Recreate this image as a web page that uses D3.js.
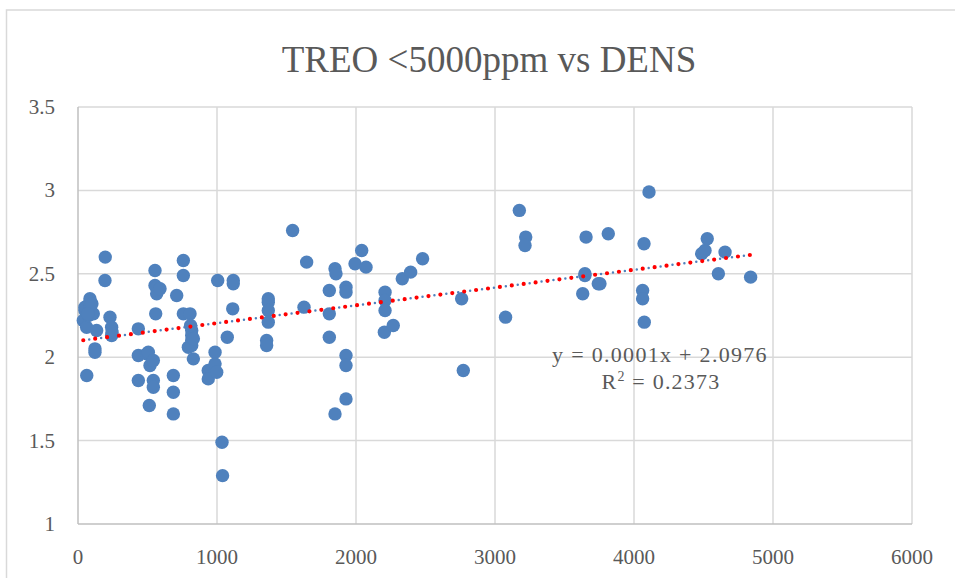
<!DOCTYPE html>
<html>
<head>
<meta charset="utf-8">
<script src="https://cdn.jsdelivr.net/npm/d3@7"></script>
<style>
  body { margin: 0; background: #fff; }
  svg text { font-family: "Liberation Serif", "DejaVu Serif", serif; fill: #595959; }
</style>
</head>
<body>
<div id="chart"></div>
<script>
// TREO (ppm) values
const treo = [
  38, 50, 50, 62, 63, 75, 86, 86, 90, 110, 122, 122, 134, 100, 70,
  194, 196, 230, 242, 242, 245,
  434, 434, 434, 494, 506, 513, 518, 542, 542, 542, 554, 554, 566, 566, 559, 590,
  686, 686, 686, 710, 758, 758, 758, 806, 794, 818, 818, 818, 818, 830, 830, 810,
  937, 937, 986, 986, 998, 1005, 1036, 1040, 1074, 1113, 1117, 1117,
  1357, 1357, 1369, 1369, 1369, 1369, 1544, 1626, 1645,
  1808, 1808, 1808, 1849, 1856, 1849, 1928, 1928, 1928, 1928, 1928, 1993, 2041, 2072,
  2209, 2209, 2209, 2204, 2268, 2333, 2393, 2479,
  2760, 2772, 3076, 3175, 3221, 3216,
  3631, 3647, 3647, 3655, 3743, 3755, 3815,
  4062, 4062, 4072, 4074, 4108,
  4487, 4511, 4527, 4607, 4655, 4839
];
// DENS values, same order
const dens = [
  2.22, 2.28, 2.30, 2.18, 1.89, 2.25, 2.35, 2.33, 2.30, 2.26, 2.05, 2.03, 2.16, 2.32, 2.26,
  2.46, 2.60, 2.24, 2.18, 2.13, 2.15,
  2.17, 2.01, 1.86, 2.02, 2.03, 1.71, 1.95, 1.98, 1.86, 1.82, 2.52, 2.43, 2.42, 2.38, 2.26, 2.41,
  1.89, 1.79, 1.66, 2.37, 2.58, 2.49, 2.26, 2.26, 2.06, 2.16, 2.13, 2.10, 2.07, 1.99, 2.11, 2.19,
  1.92, 1.87, 2.03, 1.96, 1.91, 2.46, 1.49, 1.29, 2.12, 2.29, 2.46, 2.44,
  2.10, 2.07, 2.35, 2.33, 2.28, 2.21, 2.76, 2.30, 2.57,
  2.40, 2.26, 2.12, 2.53, 2.50, 1.66, 2.42, 2.39, 2.01, 1.95, 1.75, 2.56, 2.64, 2.54,
  2.39, 2.34, 2.28, 2.15, 2.19, 2.47, 2.51, 2.59,
  2.35, 1.92, 2.24, 2.88, 2.72, 2.67,
  2.38, 2.50, 2.49, 2.72, 2.44, 2.44, 2.74,
  2.40, 2.35, 2.68, 2.21, 2.99,
  2.62, 2.64, 2.71, 2.50, 2.63, 2.48
];

const xTicks = [0, 1000, 2000, 3000, 4000, 5000, 6000];
const yTicks = [1, 1.5, 2, 2.5, 3, 3.5];

// linear trendline as drawn (intercept from the label, slope)
const trendIntercept = 2.0976;
const trendSlope = 0.0001066;

const titleText = "TREO <5000ppm vs DENS";
const eqText = "y = 0.0001x + 2.0976";
const r2Value = "0.2373";

const width = 955, height = 578;
const plot = { left: 78, right: 912, top: 107, bottom: 524 };

const svg = d3.select("#chart").append("svg")
  .attr("width", width)
  .attr("height", height);

// chart frame (only top and left edges show)
svg.append("path")
  .attr("d", "M6.5,578 L6.5,10 L955,10")
  .attr("fill", "none")
  .attr("stroke", "#d9d9d9")
  .attr("stroke-width", 1.5);

const x = d3.scaleLinear().domain([0, 6000]).range([plot.left, plot.right]);
const y = d3.scaleLinear().domain([1, 3.5]).range([plot.bottom, plot.top]);

// gridlines
svg.append("g").selectAll("line.h")
  .data(yTicks.slice(1))
  .enter().append("line")
    .attr("x1", plot.left).attr("x2", plot.right)
    .attr("y1", d => y(d)).attr("y2", d => y(d))
    .attr("stroke", "#d9d9d9").attr("stroke-width", 1.5);

svg.append("g").selectAll("line.v")
  .data(xTicks.slice(1))
  .enter().append("line")
    .attr("x1", d => x(d)).attr("x2", d => x(d))
    .attr("y1", plot.top).attr("y2", plot.bottom)
    .attr("stroke", "#d9d9d9").attr("stroke-width", 1.5);

// axis lines
svg.append("line")
  .attr("x1", plot.left).attr("x2", plot.left)
  .attr("y1", plot.top).attr("y2", plot.bottom)
  .attr("stroke", "#bfbfbf").attr("stroke-width", 1.5);
svg.append("line")
  .attr("x1", plot.left).attr("x2", plot.right)
  .attr("y1", plot.bottom).attr("y2", plot.bottom)
  .attr("stroke", "#bfbfbf").attr("stroke-width", 1.5);

// tick labels
svg.append("g").selectAll("text")
  .data(yTicks)
  .enter().append("text")
    .attr("x", 55)
    .attr("y", d => y(d) + 7)
    .attr("text-anchor", "end")
    .style("font-size", "21px")
    .text(d => d);

svg.append("g").selectAll("text")
  .data(xTicks)
  .enter().append("text")
    .attr("x", d => x(d))
    .attr("y", 564)
    .attr("text-anchor", "middle")
    .style("font-size", "21px")
    .text(d => d);

// points
const points = treo.map((t, i) => ({ x: t, y: dens[i] }));
svg.append("g").selectAll("circle")
  .data(points)
  .enter().append("circle")
    .attr("cx", d => x(d.x))
    .attr("cy", d => y(d.y))
    .attr("r", 6.7)
    .attr("fill", "#4f81bd");

// trendline: blue dots with red dots on top, like the Excel dotted line
const tx = d3.extent(treo);
const trend = d3.line()
  .x(d => x(d))
  .y(d => y(trendIntercept + trendSlope * d));

svg.append("path")
  .datum(tx)
  .attr("d", trend)
  .attr("fill", "none")
  .attr("stroke", "#4f81bd")
  .attr("stroke-width", 2.5)
  .attr("stroke-linecap", "round")
  .attr("stroke-dasharray", "0,6");

svg.append("path")
  .datum(tx)
  .attr("d", trend)
  .attr("fill", "none")
  .attr("stroke", "#ff0000")
  .attr("stroke-width", 4.2)
  .attr("stroke-linecap", "round")
  .attr("stroke-dasharray", "0,12");

// equation label (letter-spacing widens it to the Cambria width)
svg.append("text")
  .attr("x", 660).attr("y", 362)
  .attr("text-anchor", "middle")
  .style("font-size", "22px")
  .style("letter-spacing", "1.3px")
  .text(eqText);

const r2 = svg.append("text")
  .attr("x", 661).attr("y", 389)
  .attr("text-anchor", "middle")
  .style("font-size", "22px")
  .style("letter-spacing", "1.2px");
r2.append("tspan").text("R");
r2.append("tspan").attr("dy", -8).style("font-size", "14px").text("2");
r2.append("tspan").attr("dy", 8).text(" = " + r2Value);

// title
svg.append("text")
  .attr("x", 489).attr("y", 72)
  .attr("text-anchor", "middle")
  .style("font-size", "37px")
  .text(titleText);
</script>
</body>
</html>
